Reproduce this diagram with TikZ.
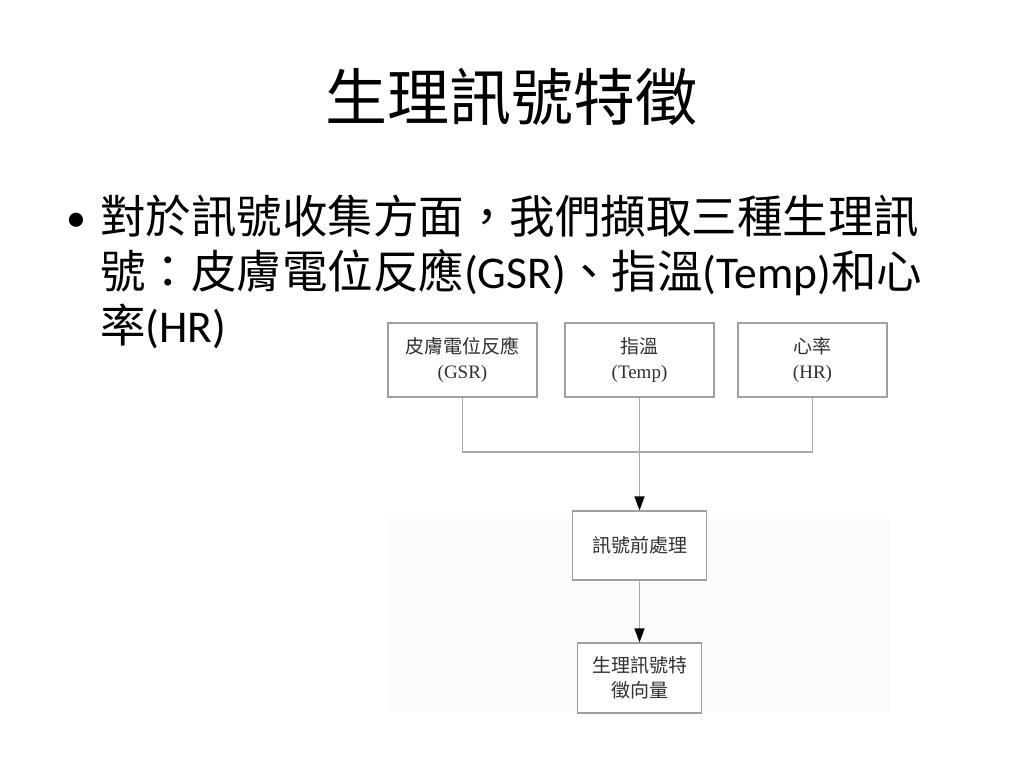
\documentclass[tikz,border=0pt]{standalone}
\usepackage{fontspec}
\setmainfont{Carlito}
\newfontfamily\cjk{Noto Sans CJK TC}
\newfontfamily\serifL{Liberation Serif}
\usetikzlibrary{arrows.meta}
\definecolor{boxline}{HTML}{A0A0A0}
\definecolor{conn}{HTML}{AAAAAA}
\definecolor{boxtext}{HTML}{303030}
\definecolor{backdrop}{HTML}{FBFBFB}
\tikzset{
  flowbox/.style={draw=boxline, line width=1.2pt, fill=white, align=center, inner sep=0pt,
    text=boxtext, font=\fontsize{19}{25}\selectfont},
  conline/.style={draw=conn, line width=1.2pt},
  arr/.style={conline, -{Triangle[length=14pt,width=10pt,fill=black,color=black]}},
  bodyline/.style={anchor=base west, inner sep=0pt, font=\fontsize{45.5}{55}\selectfont}
}
\newcommand{\lt}[1]{{\serifL #1}}
\begin{document}
\begin{tikzpicture}[x=1pt,y=-1pt]
\useasboundingbox[fill=white] (0,0) rectangle (1024,768);
% faint backdrop of the inserted figure
\fill[backdrop] (389,518) rectangle (890,712);
% title
\node[anchor=base, inner sep=0pt, font=\fontsize{62}{70}\selectfont\cjk] (title) at (511,120) {生理訊號特徵};
% bullet text
\node[anchor=base, inner sep=0pt, font=\fontsize{40}{55}\selectfont] (bullet) at (76,231) {•};
\node[bodyline] (l1) at (100,233) {\cjk 對於訊號收集方面，我們擷取三種生理訊};
\node[bodyline] (l2) at (100,288) {{\cjk 號：皮膚電位反應}(GSR){\cjk 、指溫}(Temp){\cjk 和心}};
\node[bodyline] (l3) at (100,342) {{\cjk 率}(HR)};
% diagram
\node[flowbox, minimum width=149pt, minimum height=74pt] (gsr) at (462.5,360) {{\cjk 皮膚電位反應}\\\lt{(GSR)}};
\node[flowbox, minimum width=149pt, minimum height=74pt] (temp) at (639.5,360) {{\cjk 指溫}\\\lt{(Temp)}};
\node[flowbox, minimum width=149pt, minimum height=74pt] (hr) at (812.5,360) {{\cjk 心率}\\\lt{(HR)}};
\node[flowbox, minimum width=134pt, minimum height=69pt] (pre) at (639.5,545.5) {\cjk 訊號前處理};
\node[flowbox, minimum width=124pt, minimum height=70pt] (vec) at (639.5,678) {\cjk 生理訊號特\\\cjk 徵向量};
\coordinate (join) at (639.5,452);
\draw[conline] (gsr.south) |- (join) -| (hr.south);
\draw[arr] (temp.south) -- (pre.north);
\draw[arr] (pre.south) -- (vec.north);
\end{tikzpicture}
\end{document}
